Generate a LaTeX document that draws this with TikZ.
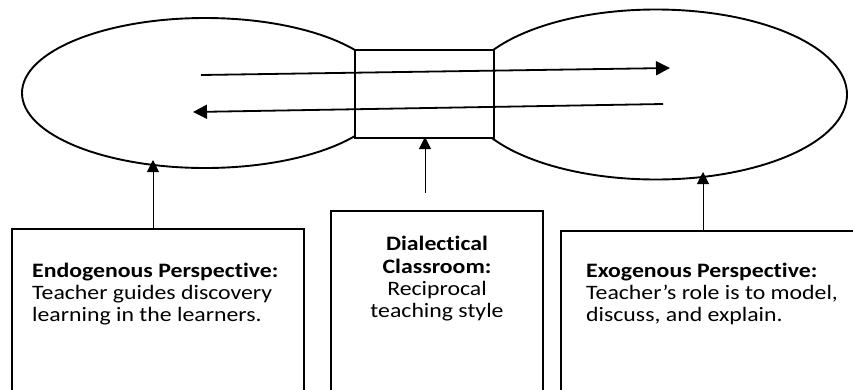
\documentclass[tikz,border=0pt]{standalone}
\usepackage{fontspec}
\setmainfont{Carlito}[Ligatures=NoCommon]
\newfontfamily\capfont{Carlito}[Ligatures=NoCommon,FakeStretch=1.16]
\usetikzlibrary{shapes.geometric,arrows.meta,calc}
\begin{document}
\begin{tikzpicture}[x=1pt,y=-1pt,
  lobe/.style={draw,line width=1.9pt,ellipse,inner sep=0pt},
  hub/.style={draw,line width=1.9pt,fill=white,inner sep=0pt},
  flow/.style={line width=1.8pt,-{Triangle[length=14pt,width=14pt]}},
  link/.style={line width=1pt,-{Triangle[length=12pt,width=12pt]}},
  panel/.style={draw,line width=1.9pt,inner sep=0pt,anchor=north west},
  caption/.style={font=\capfont\fontsize{20.5}{22.3}\selectfont,inner sep=0pt}]
\clip (0,0) rectangle (853,389);
\fill[white] (0,0) rectangle (853,389);

% two lobes joined by the classroom box
\node[lobe,minimum width=366pt,minimum height=150pt] (endo) at (205,93) {};
\node[lobe,minimum width=382pt,minimum height=170pt] (exo) at (656,94.5) {};
\node[hub,minimum width=139pt,minimum height=88pt,anchor=north west] (hub) at (354,49) {};

% exchange between the two perspectives
\coordinate (a1) at (201,75);
\coordinate (a2) at (670,68);
\coordinate (b1) at (663,104);
\coordinate (b2) at (193,112);
\draw[flow] (a1) -- (a2);
\draw[flow] (b1) -- (b2);

% description panels (open at the bottom edge)
\node[panel,minimum width=292pt,minimum height=200pt] (lbox) at (11,228) {};
\node[panel,minimum width=212pt,minimum height=200pt] (mbox) at (330,210) {};
\node[panel,minimum width=340pt,minimum height=200pt] (rbox) at (560,230) {};

\node[caption,align=left,anchor=west] (ltext) at (32,294)
  {\textbf{Endogenous Perspective:}\\Teacher guides discovery\\learning in the learners.};
\node[caption,align=center] (mtext) at (437,279)
  {\textbf{Dialectical}\\\textbf{Classroom:}\\Reciprocal\\teaching style};
\node[caption,align=left,anchor=west] (rtext) at (586,294)
  {\textbf{Exogenous Perspective:}\\Teacher’s role is to model,\\discuss, and explain.};

% pointers from panels up to the diagram
\coordinate (lt) at (153,160);
\coordinate (mt) at (425,137);
\coordinate (rt) at (703,172);
\draw[link] (lbox.north -| lt) -- (lt);
\draw[link] ($(hub.south -| mt)+(0,54)$) -- (mt);
\draw[link] (rbox.north -| rt) -- (rt);
\end{tikzpicture}
\end{document}
